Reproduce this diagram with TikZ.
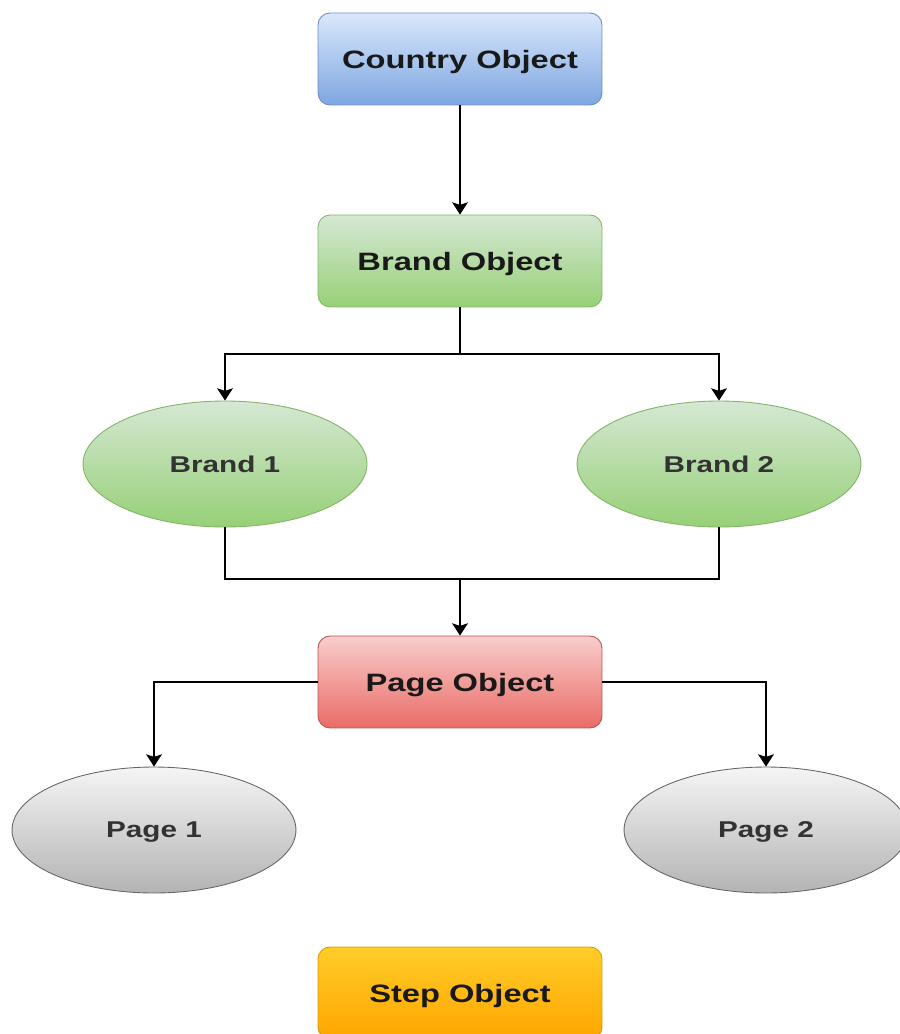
\documentclass[tikz,border=0pt]{standalone}
\usepackage{fontspec}
\setmainfont{Liberation Sans}[FakeStretch=1.3]
\usetikzlibrary{calc,arrows.meta,positioning,shapes.geometric}

\definecolor{blueTop}{HTML}{DAE8FC}
\definecolor{blueBot}{HTML}{7EA6E0}
\definecolor{blueLine}{HTML}{6C8EBF}
\definecolor{greenTop}{HTML}{D5E8D4}
\definecolor{greenBot}{HTML}{97D077}
\definecolor{greenLine}{HTML}{82B366}
\definecolor{redTop}{HTML}{F8CECC}
\definecolor{redBot}{HTML}{EA6B66}
\definecolor{redLine}{HTML}{B85450}
\definecolor{grayTop}{HTML}{F5F5F5}
\definecolor{grayBot}{HTML}{B3B3B3}
\definecolor{grayLine}{HTML}{666666}
\definecolor{orangeTop}{HTML}{FFCD28}
\definecolor{orangeBot}{HTML}{FFA500}
\definecolor{orangeLine}{HTML}{D79B00}

\begin{document}
\begin{tikzpicture}[x=0.02cm, y=-0.02cm,
        line/.style={>={Stealth[length=7pt,width=9pt,inset=1.5pt]}, line width=0.8pt},
        object/.style={rectangle, rounded corners=0.24cm, minimum width=5.68cm, minimum height=1.84cm,
            font=\fontsize{14.3}{16}\selectfont\bfseries, text=black!90, text depth=0pt, line width=0.5pt},
        item/.style={ellipse, minimum width=5.68cm, minimum height=2.52cm,
            font=\fontsize{13}{15}\selectfont\bfseries, text=black!80, text depth=0pt, line width=0.5pt},
        blueobj/.style={object, draw=blueLine, top color=blueTop, bottom color=blueBot},
        greenobj/.style={object, draw=greenLine, top color=greenTop, bottom color=greenBot},
        redobj/.style={object, draw=redLine, top color=redTop, bottom color=redBot},
        orangeobj/.style={object, draw=orangeLine, top color=orangeTop, bottom color=orangeBot},
        greenitem/.style={item, draw=greenLine, top color=greenTop, bottom color=greenBot},
        grayitem/.style={item, draw=grayLine, top color=grayTop, bottom color=grayBot}]
        \useasboundingbox (0, 0) rectangle (899, 1034);

        \node[blueobj] (country) at (460, 59) {Country Object};
        \node[greenobj] (brand) at (460, 261) {Brand Object};
        \node[greenitem] (brand1) at (225, 464) {Brand 1};
        \node[greenitem] (brand2) at (719, 464) {Brand 2};
        \node[redobj] (page) at (460, 682) {Page Object};
        \node[grayitem] (page1) at (154, 830) {Page 1};
        \node[grayitem] (page2) at (766, 830) {Page 2};
        \node[orangeobj] (step) at (460, 993) {Step Object};

        \coordinate (split) at (460, 354);
        \coordinate (merge) at (460, 579);

        \draw[->, line] (country) -- (brand);
        \draw[line] (brand) -- (split);
        \draw[->, line] (split) -| (brand1);
        \draw[->, line] (split) -| (brand2);
        \draw[line] (brand1) |- (merge);
        \draw[line] (brand2) |- (merge);
        \draw[->, line] (merge) -- (page);
        \draw[->, line] (page) -| (page1);
        \draw[->, line] (page) -| (page2);
    \end{tikzpicture}
\end{document}
